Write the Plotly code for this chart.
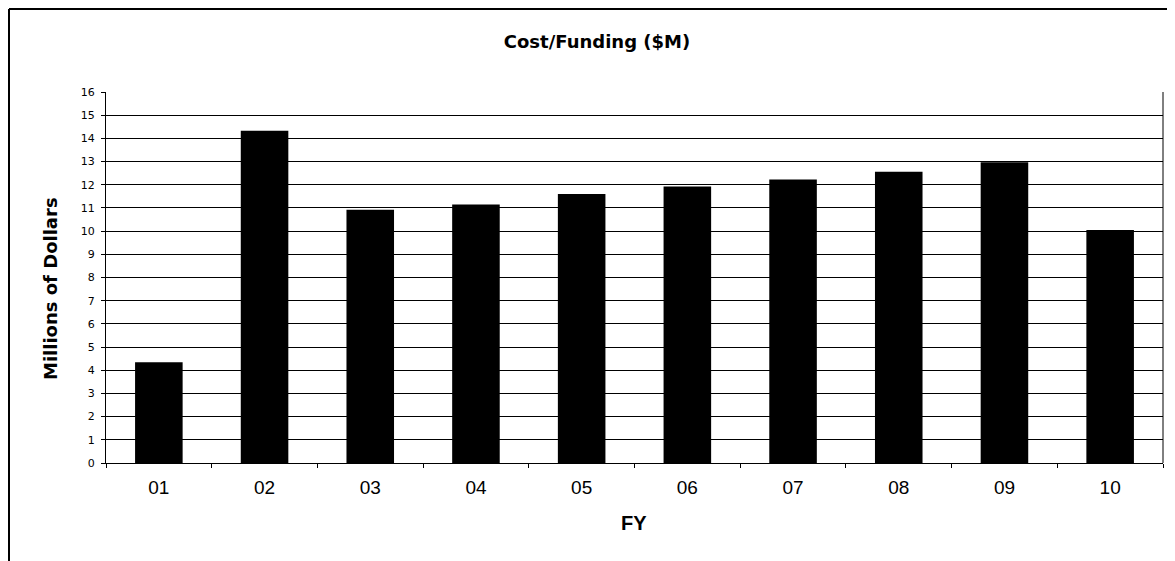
import plotly.graph_objects as go

categories = ["01", "02", "03", "04", "05", "06", "07", "08", "09", "10"]
values = [4.35, 14.33, 10.92, 11.15, 11.6, 11.92, 12.23, 12.56, 12.97, 10.05]
y_ticks = list(range(0, 17))

# page body adds an 8px offset, so the figure is sized to fit the window
OFF = 8
W, H = 1175 - OFF, 561 - OFF
L, R, T, B = 106 - OFF, 1163 - OFF, 92 - OFF, 463 - OFF

def px(x):
    return (x - L) / (R - L)

def py(y):
    return (B - y) / (B - T)

fig = go.Figure()
fig.add_trace(go.Bar(
    x=categories, y=values,
    marker=dict(color="black", line=dict(color="black", width=0)),
    width=0.45,
))

font_main = "Liberation Sans, Arial, sans-serif"
font_wide = "DejaVu Sans, Arial, sans-serif"

fig.update_layout(
    width=W, height=H,
    margin=dict(l=L, r=W - R, t=T, b=H - B),
    paper_bgcolor="white", plot_bgcolor="white",
    showlegend=False,
    font=dict(family=font_main, color="black"),
    title=dict(text="<b>Cost/Funding ($M)</b>", x=589 / W, xref="container",
               y=1 - 34 / H, yref="container", xanchor="center", yanchor="middle",
               font=dict(size=18, family=font_wide, color="black")),
    xaxis=dict(
        type="category",
        showgrid=False,
        showline=True, linecolor="black", linewidth=1,
        ticks="outside", ticklen=4, tickcolor="black",
        tickson="boundaries",
        tickfont=dict(size=19, family=font_main),
        ticklabelstandoff=7,
        mirror=False,
    ),
    yaxis=dict(
        range=[0, 16],
        tickvals=y_ticks,
        showgrid=True, gridcolor="black", gridwidth=1,
        showline=True, linecolor="black", linewidth=1,
        ticks="outside", ticklen=4, tickcolor="black",
        tickfont=dict(size=11, family=font_wide),
        ticklabelstandoff=4,
        zeroline=False,
        mirror=False,
    ),
    annotations=[
        dict(text="<b>Millions of Dollars</b>", x=px(50 - OFF), y=py(289 - OFF), xref="paper", yref="paper",
             textangle=-90, showarrow=False, font=dict(size=18, family=font_wide),
             xanchor="center", yanchor="middle"),
        dict(text="<b>FY</b>", x=px(634 - OFF), y=py(523 - OFF), xref="paper", yref="paper",
             showarrow=False, font=dict(size=20, family=font_main),
             xanchor="center", yanchor="middle"),
    ],
    shapes=[
        dict(type="line", xref="paper", yref="paper", x0=1, x1=1, y0=0, y1=1,
             line=dict(color="black", width=1)),
        dict(type="line", xref="paper", yref="paper", x0=px(1), x1=px(W), y0=py(1), y1=py(1),
             line=dict(color="black", width=2)),
        dict(type="line", xref="paper", yref="paper", x0=px(1), x1=px(1), y0=py(1), y1=py(H),
             line=dict(color="black", width=2)),
    ],
)

fig.write_html("out.html")
